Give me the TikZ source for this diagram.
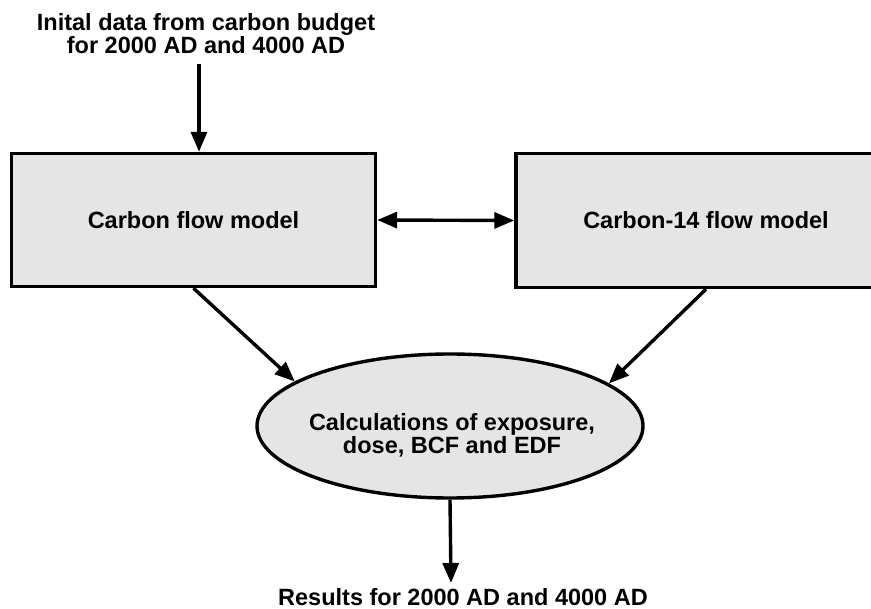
\documentclass[tikz,border=0pt]{standalone}
\usepackage{fontspec}
\setmainfont{Liberation Sans}
\usetikzlibrary{arrows.meta,shapes.geometric}
\tikzset{
	flowbox/.style={draw=black, line width=3.4pt, fill=black!10, rectangle, inner sep=0pt},
	calcbox/.style={draw=black, line width=3.4pt, fill=black!10, ellipse, inner sep=0pt},
	flowtext/.style={align=center, inner sep=0pt, font=\myfontflow},
	flowarrow/.style={line width=3.4pt, -{Triangle[length=20pt,width=16pt]}},
}
\newcommand{\myfontflow}{\fontsize{23.5}{23}\selectfont\bfseries}
\begin{document}
\begin{tikzpicture}[x=1pt,y=-1pt]
		\clip (0,0) rectangle (871,609);
		\fill[white] (0,0) rectangle (871,609);
		%Input and output texts
		\node [flowtext] (data) at (206,34) {Inital data from carbon budget\\for 2000 AD and 4000 AD};
		\node [flowtext] (results) at (463,597) {Results for 2000 AD and 4000 AD};
		\coordinate (datain) at (199,64);
		\coordinate (resultsin) at (451,583);
		%The two flow models
		\node [flowbox, minimum width=364pt, minimum height=133pt, font=\myfontflow] (carbon) at (193.5,220) {Carbon flow model};
		\node [flowbox, minimum width=380pt, minimum height=134pt, font=\myfontflow] (c14) at (706,220.5) {Carbon-14 flow model};
		%Calculations
		\node [calcbox, minimum width=386pt, minimum height=144pt] (calc) at (450,426) {};
		\node [flowtext] (calctext) at (452,435) {Calculations of exposure,\\dose, BCF and EDF};
		%Arrows
		\draw [flowarrow] (datain) -- (datain |- carbon.north);
		\draw [flowarrow, {Triangle[length=20pt,width=16pt]}-{Triangle[length=20pt,width=16pt]}] (carbon.east) -- (c14.west);
		\draw [flowarrow] (carbon.south) -- (calc.164);
		\draw [flowarrow] (c14.south) -- (calc.15);
		\draw [flowarrow] (calc.south) -- (resultsin);
\end{tikzpicture}
\end{document}
